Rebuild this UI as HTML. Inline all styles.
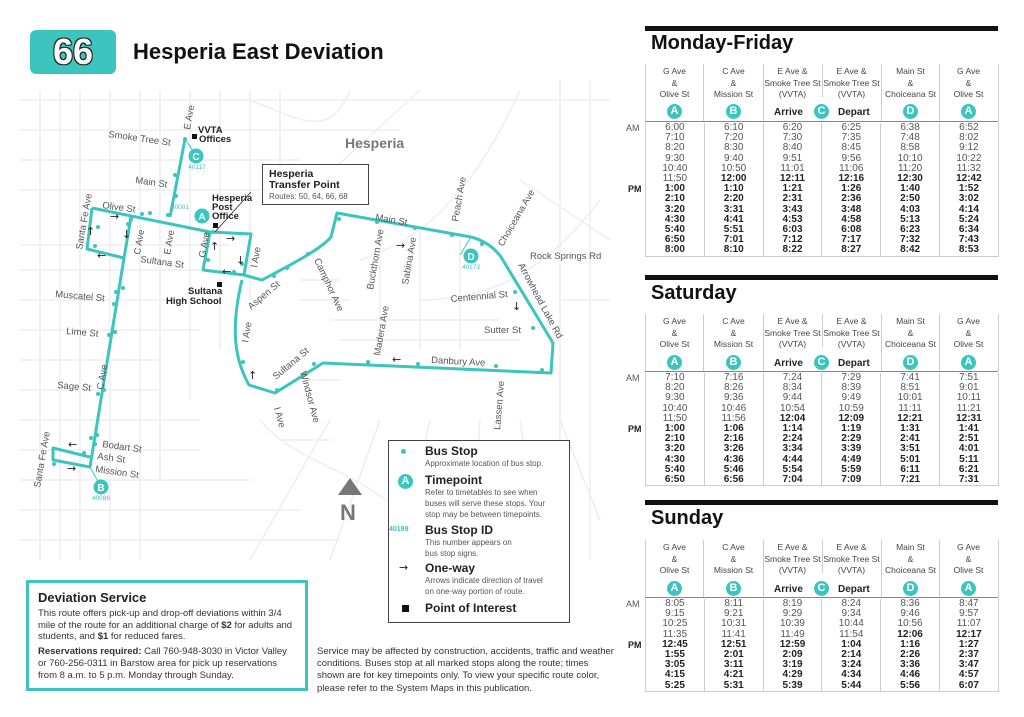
<!DOCTYPE html>
<html><head><meta charset="utf-8"><style>
*{margin:0;padding:0;box-sizing:border-box}
body{width:1024px;height:717px;background:#fff;font-family:"Liberation Sans",sans-serif;position:relative;overflow:hidden;color:#222}
.a{position:absolute}
.bar{position:absolute;left:645px;width:353px;height:5px;background:#111}
.tt{position:absolute;left:651px;font-size:20px;font-weight:bold;color:#111}
.hd{position:absolute;width:59px;text-align:center;font-size:8.5px;line-height:11.5px;color:#444}
.cir{position:absolute;width:15px;height:15px;border-radius:50%;background:#3cc4bf;color:#fff;font-weight:bold;font-size:11px;line-height:15px;text-align:center}
.ad{position:absolute;font-size:10px;font-weight:bold;color:#222}
table{position:absolute;left:645px;border-collapse:collapse;table-layout:fixed;width:353px}
td{width:58.8px;text-align:center;font-size:10px;line-height:10.2px;height:10.2px;color:#555;padding:0;border-left:1px solid #ccc}
td:last-child{border-right:1px solid #ccc}
tr:last-child td{border-bottom:1px solid #ccc}
td.b{font-weight:bold;color:#222}
.vl{position:absolute;width:1px;background:#ccc}
.hl{position:absolute;left:645px;width:353px;height:1px;background:#888}
.ap{position:absolute;left:626px;font-size:9px;color:#555}
.pm{position:absolute;left:628px;font-size:9px;font-weight:bold;color:#222}
.lg{position:absolute;font-size:8px;color:#555;line-height:11px}
.lh{position:absolute;font-size:12px;font-weight:bold;color:#222}
</style></head><body>

<svg class="a" style="left:0;top:0" width="620" height="580" viewBox="0 0 620 580">
<g stroke="#eeeeee" stroke-width="1.5" fill="none">
<path d="M20 100H610M20 130H400M20 160H300M20 190H260M20 245H230M20 270H200M20 300H200M20 330H200M20 360H160M20 390H160M20 420H200M20 450H200M20 480H250M20 510H300M20 540H340"/>
<path d="M40 90V560M60 90V560M80 90V560M110 90V560M140 90V560M160 90V480M190 90V400M220 90V350M250 90V300M280 90V200"/>
<path d="M250 100C300 120 330 140 350 90M300 200L420 90M360 260C420 240 470 200 520 90M420 300C480 300 540 280 600 200M330 420L250 560M380 420L330 560M430 420L400 560M480 420L470 560M520 420L540 560M560 420L600 520M560 300L610 300M520 180L610 240M260 420C300 470 380 470 420 540"/>
<path d="M300 280H340M300 300H350M330 320H500M340 340H520M380 220V350M420 230V350M460 240V350M300 380H340M280 440H330M560 80V560M590 80V560"/>
</g>
<g stroke="#3cc4bf" stroke-width="3" fill="none" stroke-linejoin="round">
<path d="M185 139L170 217"/>
<path d="M92 208L210 232L251 234L244 275L203 270L210 232"/>
<path d="M92 208L87 249L124 258L131 217"/>
<path d="M124 258L90 467"/>
<path d="M90 457L53 448L53 460L90 467"/>
<path d="M244 275L262 280C290 265 320 250 331 237L337 213L471 237Q490 242 501 257L553 343L551 373L323 363L275 393L249 385C235 360 230 330 242 280"/>
<path d="M90 467L101 487" stroke-width="1"/>
<path d="M185 139L196 155" stroke-width="1"/>
<path d="M471 237L460 255" stroke-width="1"/>
</g>
<g fill="#3cc4bf">
<circle cx="185" cy="139" r="2"/><circle cx="175" cy="175" r="2"/><circle cx="176" cy="196" r="2"/><circle cx="168" cy="215" r="2"/><circle cx="150" cy="213" r="2"/><circle cx="142" cy="214" r="2"/><circle cx="131" cy="219" r="2"/><circle cx="128" cy="224" r="2"/><circle cx="98" cy="227" r="2"/><circle cx="95" cy="246" r="2"/><circle cx="207" cy="233" r="2"/><circle cx="213" cy="232" r="2"/><circle cx="208" cy="260" r="2"/><circle cx="242" cy="264" r="2"/><circle cx="234" cy="272" r="2"/>
<circle cx="123" cy="288" r="2"/><circle cx="116" cy="292" r="2"/><circle cx="114" cy="304" r="2"/><circle cx="115" cy="332" r="2"/><circle cx="109" cy="335" r="2"/><circle cx="104" cy="390" r="2"/><circle cx="98" cy="394" r="2"/><circle cx="97" cy="435" r="2"/><circle cx="91" cy="438" r="2"/><circle cx="84" cy="453" r="2"/><circle cx="54" cy="464" r="2"/><circle cx="95" cy="444" r="2"/>
<circle cx="274" cy="276" r="2"/><circle cx="287" cy="268" r="2"/><circle cx="308" cy="254" r="2"/><circle cx="339" cy="219" r="2"/><circle cx="377" cy="222" r="2"/><circle cx="415" cy="228" r="2"/><circle cx="452" cy="235" r="2"/><circle cx="482" cy="244" r="2"/><circle cx="515" cy="292" r="2"/><circle cx="533" cy="328" r="2"/><circle cx="542" cy="370" r="2"/><circle cx="496" cy="366" r="2"/><circle cx="418" cy="364" r="2"/><circle cx="368" cy="362" r="2"/><circle cx="314" cy="364" r="2"/><circle cx="277" cy="390" r="2"/><circle cx="243" cy="362" r="2"/>
<circle cx="196" cy="156" r="7.5"/><circle cx="202" cy="216" r="7.5"/><circle cx="101" cy="487" r="7.5"/><circle cx="471" cy="256" r="7.5"/>
</g>
<g fill="#fff" font-weight="bold" font-size="10" text-anchor="middle" font-family="Liberation Sans">
<text x="196" y="160">C</text><text x="202" y="220">A</text><text x="101" y="491">B</text><text x="471" y="260">D</text>
</g>
<g fill="#3cc4bf" font-size="6.5" font-family="Liberation Sans" text-anchor="middle">
<text x="197" y="169">40117</text><text x="180" y="209">40001</text><text x="101" y="500">40086</text><text x="471" y="269">40173</text>
</g>
<g fill="#222" font-size="11" font-family="DejaVu Sans">
<text x="110" y="220">→</text><text x="122" y="238">↓</text><text x="86" y="235">↑</text><text x="97" y="259">←</text><text x="226" y="242">→</text><text x="210" y="250">↑</text><text x="236" y="264">↓</text><text x="222" y="275">←</text><text x="396" y="249">→</text><text x="512" y="310">↓</text><text x="392" y="363">←</text><text x="248" y="379">↑</text><text x="67" y="472">→</text><text x="68" y="448">←</text>
</g>
<path d="M251 192L215 232" stroke="#222" stroke-width="0.8"/>
<g fill="#111"><rect x="192" y="134" width="5" height="5"/><rect x="213" y="223" width="5" height="5"/><rect x="217" y="282" width="5" height="5"/></g>
<path d="M350 478L338 495H362Z" fill="#777"/>
<text x="340" y="520" font-size="22" font-weight="bold" fill="#777" font-family="Liberation Sans">N</text>
<g fill="#555" font-size="9.5" font-family="Liberation Sans">
<text transform="translate(108 137) rotate(8)">Smoke Tree St</text>
<text transform="translate(135 183) rotate(8)">Main St</text>
<text transform="translate(102 208) rotate(8)">Olive St</text>
<text transform="translate(140 262) rotate(8)">Sultana St</text>
<text transform="translate(55 297) rotate(5)">Muscatel St</text>
<text transform="translate(66 334) rotate(5)">Lime St</text>
<text transform="translate(57 388) rotate(5)">Sage St</text>
<text transform="translate(102 447) rotate(8)">Bodart St</text>
<text transform="translate(97 459) rotate(8)">Ash St</text>
<text transform="translate(95 472) rotate(8)">Mission St</text>
<text transform="translate(82 250) rotate(-80)">Santa Fe Ave</text>
<text transform="translate(40 488) rotate(-80)">Santa Fe Ave</text>
<text transform="translate(140 255) rotate(-80)">C Ave</text>
<text transform="translate(103 390) rotate(-80)">C Ave</text>
<text transform="translate(170 255) rotate(-80)">E Ave</text>
<text transform="translate(190 130) rotate(-80)">E Ave</text>
<text transform="translate(205 258) rotate(-80)">G Ave</text>
<text transform="translate(257 268) rotate(-80)">I Ave</text>
<text transform="translate(248 343) rotate(-80)">I Ave</text>
<text transform="translate(276 380) rotate(-40)">Sultana St</text>
<text transform="translate(251 310) rotate(-40)">Aspen St</text>
<text transform="translate(314 260) rotate(65)">Camphor Ave</text>
<text transform="translate(373 290) rotate(-80)">Buckthorn Ave</text>
<text transform="translate(408 285) rotate(-80)">Sabina Ave</text>
<text transform="translate(375 220) rotate(10)">Main St</text>
<text transform="translate(458 222) rotate(-80)">Peach Ave</text>
<text transform="translate(503 247) rotate(-60)">Choiceana Ave</text>
<text x="530" y="259">Rock Springs Rd</text>
<text transform="translate(451 302) rotate(-5)">Centennial St</text>
<text x="484" y="333">Sutter St</text>
<text transform="translate(518 265) rotate(62)">Arrowhead Lake Rd</text>
<text transform="translate(380 356) rotate(-80)">Madera Ave</text>
<text transform="translate(431 363) rotate(3)">Danbury Ave</text>
<text transform="translate(300 372) rotate(75)">Windsor Ave</text>
<text transform="translate(274 408) rotate(75)">I Ave</text>
<text transform="translate(500 430) rotate(-85)">Lassen Ave</text>
</g>
<text x="345" y="148" font-size="14" font-weight="bold" fill="#777" font-family="Liberation Sans">Hesperia</text>
<g fill="#222" font-size="9.5" font-weight="bold" font-family="Liberation Sans">
<text x="198" y="133">VVTA</text><text x="199" y="142">Offices</text>
<text x="212" y="201">Hesperia</text><text x="212" y="210">Post</text><text x="212" y="219">Office</text>
<text x="188" y="294">Sultana</text><text x="166" y="304">High School</text>
</g>
</svg>

<div class="a" style="left:30px;top:30px;width:86px;height:44px;background:#3cc4bf;border-radius:6px;color:#fff;font-weight:bold;font-size:36px;text-align:center;line-height:44px;text-shadow:1px 1px 0 #222,-1px -1px 0 #222,1px -1px 0 #222,-1px 1px 0 #222">66</div>
<div class="a" style="left:133px;top:39px;font-size:22px;font-weight:bold;color:#111">Hesperia East Deviation</div>

<div class="a" style="left:262px;top:164px;width:107px;height:41px;border:1.5px solid #444;background:#fff;padding:4px 6px;font-size:10.5px;font-weight:bold;line-height:11px;color:#222">Hesperia<br>Transfer Point<div style="font-weight:normal;font-size:8px;color:#555;line-height:11px">Routes: 50, 64, 66, 68</div></div>

<div class="a" style="left:388px;top:440px;width:182px;height:183px;border:1.5px solid #444;background:#fff"></div>
<div class="a" style="left:401px;top:449px;width:5px;height:5px;border-radius:50%;background:#3cc4bf"></div>
<div class="lh" style="left:425px;top:444px">Bus Stop</div>
<div class="lg" style="left:425px;top:458px">Approximate location of bus stop.</div>
<div class="cir" style="left:398px;top:474px">A</div>
<div class="lh" style="left:425px;top:473px">Timepoint</div>
<div class="lg" style="left:425px;top:487px">Refer to timetables to see when<br>buses will serve these stops. Your<br>stop may be between timepoints.</div>
<div class="a" style="left:389px;top:526px;font-size:7px;color:#3cc4bf;font-weight:bold">40199</div>
<div class="lh" style="left:425px;top:523px">Bus Stop ID</div>
<div class="lg" style="left:425px;top:537px">This number appears on<br>bus stop signs.</div>
<div class="a" style="left:399px;top:561px;font-size:11px;font-family:'DejaVu Sans';color:#222">→</div>
<div class="lh" style="left:425px;top:561px">One-way</div>
<div class="lg" style="left:425px;top:575px">Arrows indicate direction of travel<br>on one-way portion of route.</div>
<div class="a" style="left:402px;top:605px;width:7px;height:7px;background:#111"></div>
<div class="lh" style="left:425px;top:601px">Point of Interest</div>

<div class="a" style="left:26px;top:580px;width:282px;height:111px;border:3px solid #3cc4bf;padding:7px 9px;font-size:9.5px;line-height:11.7px;color:#333">
<div style="font-size:13px;font-weight:bold;color:#222;line-height:16px;margin-bottom:2px">Deviation Service</div>
This route offers pick-up and drop-off deviations within 3/4 mile of the route for an additional charge of <b>$2</b> for adults and students, and <b>$1</b> for reduced fares.
<div style="margin-top:3px"><b>Reservations required:</b> Call 760-948-3030 in Victor Valley or 760-256-0311 in Barstow area for pick up reservations from 8 a.m. to 5 p.m. Monday through Sunday.</div></div>
<div class="a" style="left:317px;top:646px;width:300px;font-size:9.5px;line-height:12.2px;color:#333">Service may be affected by construction, accidents, traffic and weather conditions. Buses stop at all marked stops along the route; times shown are for key timepoints only. To view your specific route color, please refer to the System Maps in this publication.</div>

<!-- MONDAY-FRIDAY -->
<div class="bar" style="top:26px"></div>
<div class="tt" style="top:32px">Monday-Friday</div>
<div class="vl" style="left:645px;top:64px;height:57px"></div><div class="vl" style="left:703px;top:64px;height:57px"></div><div class="vl" style="left:763px;top:64px;height:57px"></div><div class="vl" style="left:822px;top:64px;height:33px"></div><div class="vl" style="left:881px;top:64px;height:57px"></div><div class="vl" style="left:939px;top:64px;height:57px"></div><div class="vl" style="left:998px;top:64px;height:57px"></div>
<div class="hd" style="left:645px;top:66px">G Ave<br>&amp;<br>Olive St</div>
<div class="hd" style="left:704px;top:66px">C Ave<br>&amp;<br>Mission St</div>
<div class="hd" style="left:763px;top:66px">E Ave &amp;<br>Smoke Tree St<br>(VVTA)</div>
<div class="hd" style="left:822px;top:66px">E Ave &amp;<br>Smoke Tree St<br>(VVTA)</div>
<div class="hd" style="left:881px;top:66px">Main St<br>&amp;<br>Choiceana St</div>
<div class="hd" style="left:939px;top:66px">G Ave<br>&amp;<br>Olive St</div>
<div class="cir" style="left:667px;top:104px">A</div><div class="cir" style="left:726px;top:104px">B</div><div class="cir" style="left:814px;top:104px">C</div><div class="cir" style="left:903px;top:104px">D</div><div class="cir" style="left:961px;top:104px">A</div>
<div class="ad" style="left:774px;top:107px">Arrive</div><div class="ad" style="left:838px;top:107px">Depart</div>
<div class="hl" style="top:121px"></div>
<div class="ap" style="top:123px">AM</div><div class="pm" style="top:184px">PM</div>
<table style="top:123px">
<tr><td>6:00</td><td>6:10</td><td>6:20</td><td>6:25</td><td>6:38</td><td>6:52</td></tr>
<tr><td>7:10</td><td>7:20</td><td>7:30</td><td>7:35</td><td>7:48</td><td>8:02</td></tr>
<tr><td>8:20</td><td>8:30</td><td>8:40</td><td>8:45</td><td>8:58</td><td>9:12</td></tr>
<tr><td>9:30</td><td>9:40</td><td>9:51</td><td>9:56</td><td>10:10</td><td>10:22</td></tr>
<tr><td>10:40</td><td>10:50</td><td>11:01</td><td>11:06</td><td>11:20</td><td>11:32</td></tr>
<tr><td>11:50</td><td class="b">12:00</td><td class="b">12:11</td><td class="b">12:16</td><td class="b">12:30</td><td class="b">12:42</td></tr>
<tr><td class="b">1:00</td><td class="b">1:10</td><td class="b">1:21</td><td class="b">1:26</td><td class="b">1:40</td><td class="b">1:52</td></tr>
<tr><td class="b">2:10</td><td class="b">2:20</td><td class="b">2:31</td><td class="b">2:36</td><td class="b">2:50</td><td class="b">3:02</td></tr>
<tr><td class="b">3:20</td><td class="b">3:31</td><td class="b">3:43</td><td class="b">3:48</td><td class="b">4:03</td><td class="b">4:14</td></tr>
<tr><td class="b">4:30</td><td class="b">4:41</td><td class="b">4:53</td><td class="b">4:58</td><td class="b">5:13</td><td class="b">5:24</td></tr>
<tr><td class="b">5:40</td><td class="b">5:51</td><td class="b">6:03</td><td class="b">6:08</td><td class="b">6:23</td><td class="b">6:34</td></tr>
<tr><td class="b">6:50</td><td class="b">7:01</td><td class="b">7:12</td><td class="b">7:17</td><td class="b">7:32</td><td class="b">7:43</td></tr>
<tr><td class="b">8:00</td><td class="b">8:10</td><td class="b">8:22</td><td class="b">8:27</td><td class="b">8:42</td><td class="b">8:53</td></tr>
</table>

<!-- SATURDAY -->
<div class="bar" style="top:275px"></div>
<div class="tt" style="top:282px">Saturday</div>
<div class="vl" style="left:645px;top:314px;height:57px"></div><div class="vl" style="left:703px;top:314px;height:57px"></div><div class="vl" style="left:763px;top:314px;height:57px"></div><div class="vl" style="left:822px;top:314px;height:33px"></div><div class="vl" style="left:881px;top:314px;height:57px"></div><div class="vl" style="left:939px;top:314px;height:57px"></div><div class="vl" style="left:998px;top:314px;height:57px"></div>
<div class="hd" style="left:645px;top:316px">G Ave<br>&amp;<br>Olive St</div>
<div class="hd" style="left:704px;top:316px">C Ave<br>&amp;<br>Mission St</div>
<div class="hd" style="left:763px;top:316px">E Ave &amp;<br>Smoke Tree St<br>(VVTA)</div>
<div class="hd" style="left:822px;top:316px">E Ave &amp;<br>Smoke Tree St<br>(VVTA)</div>
<div class="hd" style="left:881px;top:316px">Main St<br>&amp;<br>Choiceana St</div>
<div class="hd" style="left:939px;top:316px">G Ave<br>&amp;<br>Olive St</div>
<div class="cir" style="left:667px;top:355px">A</div><div class="cir" style="left:726px;top:355px">B</div><div class="cir" style="left:814px;top:355px">C</div><div class="cir" style="left:903px;top:355px">D</div><div class="cir" style="left:961px;top:355px">A</div>
<div class="ad" style="left:774px;top:358px">Arrive</div><div class="ad" style="left:838px;top:358px">Depart</div>
<div class="hl" style="top:371px"></div>
<div class="ap" style="top:373px">AM</div><div class="pm" style="top:424px">PM</div>
<table style="top:373px">
<tr><td>7:10</td><td>7:16</td><td>7:24</td><td>7:29</td><td>7:41</td><td>7:51</td></tr>
<tr><td>8:20</td><td>8:26</td><td>8:34</td><td>8:39</td><td>8:51</td><td>9:01</td></tr>
<tr><td>9:30</td><td>9:36</td><td>9:44</td><td>9:49</td><td>10:01</td><td>10:11</td></tr>
<tr><td>10:40</td><td>10:46</td><td>10:54</td><td>10:59</td><td>11:11</td><td>11:21</td></tr>
<tr><td>11:50</td><td>11:56</td><td class="b">12:04</td><td class="b">12:09</td><td class="b">12:21</td><td class="b">12:31</td></tr>
<tr><td class="b">1:00</td><td class="b">1:06</td><td class="b">1:14</td><td class="b">1:19</td><td class="b">1:31</td><td class="b">1:41</td></tr>
<tr><td class="b">2:10</td><td class="b">2:16</td><td class="b">2:24</td><td class="b">2:29</td><td class="b">2:41</td><td class="b">2:51</td></tr>
<tr><td class="b">3:20</td><td class="b">3:26</td><td class="b">3:34</td><td class="b">3:39</td><td class="b">3:51</td><td class="b">4:01</td></tr>
<tr><td class="b">4:30</td><td class="b">4:36</td><td class="b">4:44</td><td class="b">4:49</td><td class="b">5:01</td><td class="b">5:11</td></tr>
<tr><td class="b">5:40</td><td class="b">5:46</td><td class="b">5:54</td><td class="b">5:59</td><td class="b">6:11</td><td class="b">6:21</td></tr>
<tr><td class="b">6:50</td><td class="b">6:56</td><td class="b">7:04</td><td class="b">7:09</td><td class="b">7:21</td><td class="b">7:31</td></tr>
</table>

<!-- SUNDAY -->
<div class="bar" style="top:500px"></div>
<div class="tt" style="top:507px">Sunday</div>
<div class="vl" style="left:645px;top:540px;height:57px"></div><div class="vl" style="left:703px;top:540px;height:57px"></div><div class="vl" style="left:763px;top:540px;height:57px"></div><div class="vl" style="left:822px;top:540px;height:33px"></div><div class="vl" style="left:881px;top:540px;height:57px"></div><div class="vl" style="left:939px;top:540px;height:57px"></div><div class="vl" style="left:998px;top:540px;height:57px"></div>
<div class="hd" style="left:645px;top:542px">G Ave<br>&amp;<br>Olive St</div>
<div class="hd" style="left:704px;top:542px">C Ave<br>&amp;<br>Mission St</div>
<div class="hd" style="left:763px;top:542px">E Ave &amp;<br>Smoke Tree St<br>(VVTA)</div>
<div class="hd" style="left:822px;top:542px">E Ave &amp;<br>Smoke Tree St<br>(VVTA)</div>
<div class="hd" style="left:881px;top:542px">Main St<br>&amp;<br>Choiceana St</div>
<div class="hd" style="left:939px;top:542px">G Ave<br>&amp;<br>Olive St</div>
<div class="cir" style="left:667px;top:581px">A</div><div class="cir" style="left:726px;top:581px">B</div><div class="cir" style="left:814px;top:581px">C</div><div class="cir" style="left:903px;top:581px">D</div><div class="cir" style="left:961px;top:581px">A</div>
<div class="ad" style="left:774px;top:584px">Arrive</div><div class="ad" style="left:838px;top:584px">Depart</div>
<div class="hl" style="top:597px"></div>
<div class="ap" style="top:599px">AM</div><div class="pm" style="top:640px">PM</div>
<table style="top:599px">
<tr><td>8:05</td><td>8:11</td><td>8:19</td><td>8:24</td><td>8:36</td><td>8:47</td></tr>
<tr><td>9:15</td><td>9:21</td><td>9:29</td><td>9:34</td><td>9:46</td><td>9:57</td></tr>
<tr><td>10:25</td><td>10:31</td><td>10:39</td><td>10:44</td><td>10:56</td><td>11:07</td></tr>
<tr><td>11:35</td><td>11:41</td><td>11:49</td><td>11:54</td><td class="b">12:06</td><td class="b">12:17</td></tr>
<tr><td class="b">12:45</td><td class="b">12:51</td><td class="b">12:59</td><td class="b">1:04</td><td class="b">1:16</td><td class="b">1:27</td></tr>
<tr><td class="b">1:55</td><td class="b">2:01</td><td class="b">2:09</td><td class="b">2:14</td><td class="b">2:26</td><td class="b">2:37</td></tr>
<tr><td class="b">3:05</td><td class="b">3:11</td><td class="b">3:19</td><td class="b">3:24</td><td class="b">3:36</td><td class="b">3:47</td></tr>
<tr><td class="b">4:15</td><td class="b">4:21</td><td class="b">4:29</td><td class="b">4:34</td><td class="b">4:46</td><td class="b">4:57</td></tr>
<tr><td class="b">5:25</td><td class="b">5:31</td><td class="b">5:39</td><td class="b">5:44</td><td class="b">5:56</td><td class="b">6:07</td></tr>
</table>
</body></html>
